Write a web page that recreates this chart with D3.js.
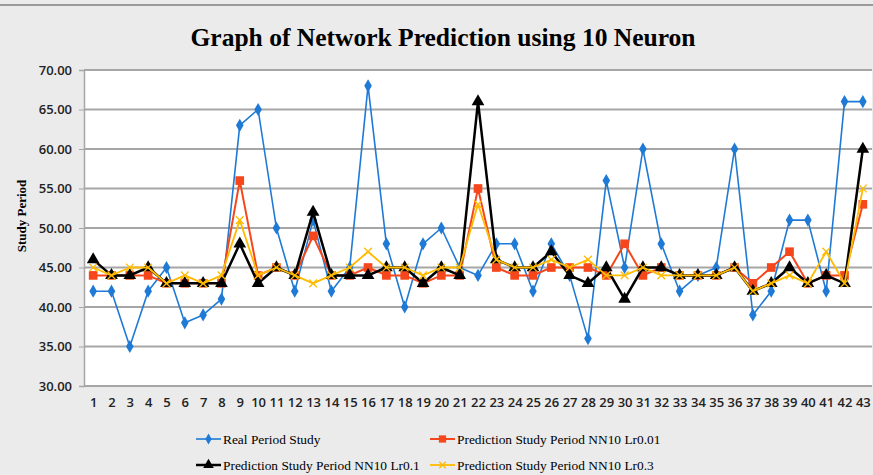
<!DOCTYPE html>
<html>
<head>
<meta charset="utf-8">
<script src="https://cdn.jsdelivr.net/npm/d3@7"></script>
<style>
  body { margin: 0; background: #ebebeb; }
  svg { display: block; }
</style>
</head>
<body>
<div id="chart"></div>
<script>
// Chart data
var categories = d3.range(1, 44).map(String);
var yTicks = [30, 35, 40, 45, 50, 55, 60, 65, 70];

var realStudy = [42, 42, 35, 42, 45, 38, 39, 41, 63, 65, 50, 42, 51, 42, 45, 68, 48, 40, 48, 50, 45,
  44, 48, 48, 42, 48, 44, 36, 56, 45, 60, 48, 42, 44, 45, 60, 39, 42, 51, 51, 42, 66, 66];
var predLr001 = [44, 44, 44, 44, 43, 43, 43, 43, 56, 44, 45, 44, 49, 44, 44, 45, 44, 44, 43, 44, 44,
  55, 45, 44, 44, 45, 45, 45, 44, 48, 44, 45, 44, 44, 44, 45, 43, 45, 47, 43, 44, 44, 53];
var predLr01 = [46, 44, 44, 45, 43, 43, 43, 43, 48, 43, 45, 44, 52, 44, 44, 44, 45, 45, 43, 45, 44,
  66, 46, 45, 45, 47, 44, 43, 45, 41, 45, 45, 44, 44, 44, 45, 42, 43, 45, 43, 44, 43, 60];
var predLr03 = [45, 44, 45, 45, 43, 44, 43, 44, 51, 44, 45, 44, 43, 44, 45, 47, 45, 45, 44, 45, 45,
  53, 46, 45, 45, 46, 45, 46, 44, 44, 45, 44, 44, 44, 44, 45, 42, 43, 44, 43, 47, 43, 55];

var seriesNames = ["Real Period Study", "Prediction Study Period NN10 Lr0.01",
  "Prediction Study Period NN10 Lr0.1", "Prediction Study Period NN10 Lr0.3"];

var svgWidth = 873;
var svgHeight = 475;
var margin = { top: 70, right: 1, bottom: 89, left: 84 };
var width = svgWidth - margin.left - margin.right;
var height = svgHeight - margin.top - margin.bottom;

var svg = d3.select("#chart").append("svg")
  .attr("width", svgWidth)
  .attr("height", svgHeight);

svg.append("rect").attr("width", svgWidth).attr("height", svgHeight).attr("fill", "#ebebeb");
svg.append("line").attr("x1", 0).attr("x2", svgWidth).attr("y1", 5).attr("y2", 5)
  .attr("stroke", "#9a9a9a").attr("stroke-width", 2);

// title
svg.append("text")
  .attr("x", 443).attr("y", 46)
  .attr("text-anchor", "middle")
  .attr("font-family", "Liberation Serif, serif")
  .attr("font-weight", "bold")
  .attr("font-size", 25)
  .attr("textLength", 505)
  .attr("lengthAdjust", "spacingAndGlyphs")
  .text("Graph of Network Prediction using 10 Neuron");

var chartGroup = svg.append("g")
  .attr("transform", `translate(${margin.left}, ${margin.top})`);

chartGroup.append("rect").attr("width", width).attr("height", height).attr("fill", "#ffffff");

var xScale = d3.scalePoint().domain(categories).range([0, width]).padding(0.5);
var yScale = d3.scaleLinear().domain([30, 70]).range([height, 0]);

// gridlines
chartGroup.selectAll(".grid").data(yTicks).enter().append("line")
  .attr("x1", 0).attr("x2", width)
  .attr("y1", d => yScale(d)).attr("y2", d => yScale(d))
  .attr("stroke", "#a6a6a6").attr("stroke-width", 2);

// y axis
var leftAxis = d3.axisLeft(yScale).tickValues(yTicks).tickFormat(d3.format(".2f")).tickSize(5).tickPadding(7);
var yAxisG = chartGroup.append("g").call(leftAxis);
yAxisG.select(".domain").attr("stroke", "#a6a6a6").attr("stroke-width", 1.5);
yAxisG.selectAll(".tick line").attr("stroke", "#a6a6a6");
yAxisG.selectAll("text")
  .attr("font-family", "Open Sans, sans-serif")
  .attr("font-size", 13).attr("font-weight", 600).attr("fill", "#222");

// x axis labels
var bottomAxis = d3.axisBottom(xScale).tickSize(0).tickPadding(12);
var xAxisG = chartGroup.append("g").attr("transform", `translate(0, ${height})`).call(bottomAxis);
xAxisG.select(".domain").remove();
xAxisG.selectAll("text")
  .attr("font-family", "Open Sans, sans-serif")
  .attr("font-size", 13).attr("font-weight", 600).attr("fill", "#222");

// y axis title
svg.append("text")
  .attr("transform", "translate(26, 216) rotate(-90)")
  .attr("text-anchor", "middle")
  .attr("font-family", "Liberation Serif, serif")
  .attr("font-weight", "bold")
  .attr("font-size", 13)
  .text("Study Period");

var series = [
  { values: realStudy, color: "#1f7ad6", width: 1.6, marker: "diamond", size: 50 },
  { values: predLr001, color: "#f5471b", width: 2, marker: "square", size: 75 },
  { values: predLr01, color: "#000000", width: 2.5, marker: "triangle", size: 70 },
  { values: predLr03, color: "#ffbb00", width: 1.8, marker: "x", size: 60 }
];

var symbolTypes = {
  diamond: d3.symbolDiamond,
  square: d3.symbolSquare,
  triangle: d3.symbolTriangle
};

var line = d3.line()
  .x((d, i) => xScale(categories[i]))
  .y(d => yScale(d));

function drawMarker(g, s, x, y, size) {
  if (s.marker === "x") {
    var r = Math.sqrt(size) / 2;
    g.append("path")
      .attr("d", `M${x - r},${y - r}L${x + r},${y + r}M${x - r},${y + r}L${x + r},${y - r}`)
      .attr("stroke", s.color).attr("stroke-width", 1.3).attr("fill", "none");
  } else {
    g.append("path")
      .attr("transform", `translate(${x},${y})`)
      .attr("d", d3.symbol().type(symbolTypes[s.marker]).size(size)())
      .attr("fill", s.color);
  }
}

series.forEach(function(s) {
  chartGroup.append("path")
    .datum(s.values)
    .attr("d", line)
    .attr("fill", "none")
    .attr("stroke", s.color)
    .attr("stroke-width", s.width)
    .attr("stroke-linejoin", "round");
  var mg = chartGroup.append("g");
  s.values.forEach(function(v, i) {
    drawMarker(mg, s, xScale(categories[i]), yScale(v), s.size);
  });
});

// legend
var legendPos = [[196, 439], [430, 439], [196, 465], [430, 465]];
series.forEach(function(s, i) {
  var lg = svg.append("g").attr("transform", `translate(${legendPos[i][0]}, ${legendPos[i][1]})`);
  lg.append("line").attr("x1", 0).attr("x2", 25).attr("y1", 0).attr("y2", 0)
    .attr("stroke", s.color).attr("stroke-width", s.width);
  drawMarker(lg, s, 12.5, 0, s.size * 0.7);
  lg.append("text")
    .attr("x", 27).attr("y", 4.5)
    .attr("font-family", "Liberation Serif, serif")
    .attr("font-size", 13.4)
    .attr("fill", "#000")
    .text(seriesNames[i]);
});
</script>
</body>
</html>
